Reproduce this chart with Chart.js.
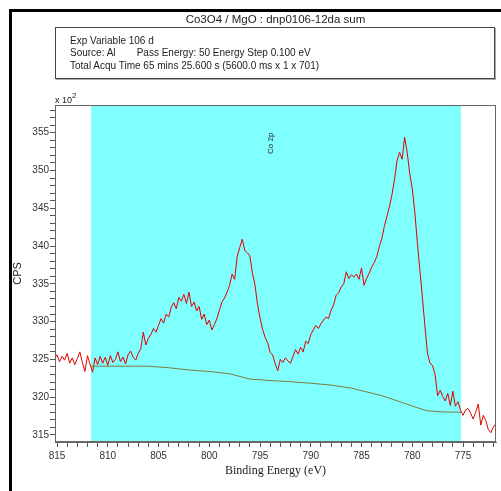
<!DOCTYPE html>
<html><head><meta charset="utf-8">
<script src="https://cdn.jsdelivr.net/npm/chart.js@4"></script>
<style>
html,body{margin:0;padding:0;background:#fff;}
#wrap{position:relative;width:501px;height:491px;overflow:hidden;background:#fff;}
#c{position:absolute;left:0;top:0;}
#frameTop{position:absolute;left:9px;top:9px;width:492px;height:3px;background:#000;}
#frameLeft{position:absolute;left:9px;top:9px;width:3px;height:482px;background:#000;}
#title{position:absolute;left:55px;width:441px;top:12px;text-align:center;font:11.5px "Liberation Sans",Arial,sans-serif;color:#222;line-height:14px;white-space:nowrap;}
#info{position:absolute;left:55px;top:27px;width:440px;height:52px;box-sizing:border-box;border:1px solid #444;box-shadow:1px 1px 0 #aaa;font:10px "Liberation Sans",Arial,sans-serif;color:#222;padding:6.5px 0 0 14px;line-height:12.5px;white-space:nowrap;}
#info span.k{display:inline-block;width:66.7px;}
#mult{position:absolute;left:55px;top:92px;font:9px "Liberation Sans",Arial,sans-serif;color:#222;line-height:10px;white-space:nowrap;}
#mult sup{font-size:8px;position:relative;top:-1px;}
</style>
</head><body>
<div id="wrap">
<canvas id="c" width="501" height="491"></canvas>
<div id="frameTop"></div><div id="frameLeft"></div>
<div id="title">Co3O4 / MgO : dnp0106-12da sum</div>
<div id="info">Exp Variable 106 d<br><span class="k">Source: Al</span>Pass Energy: 50 Energy Step 0.100 eV<br>Total Acqu Time 65 mins 25.600 s (5600.0 ms x 1 x 701)</div>
<div id="mult">x 10<sup>2</sup></div>
</div>
<script>
// Binding energies (eV) of the measured spectrum
const energy = [815.25,
 815,814.75,814.5,814.25, 814,813.75,813.5,813.25, 813,812.75,812.5,812.25, 812,811.75,811.5,811.25,
 811,810.75,810.5,810.25, 810,809.75,809.5,809.25, 809,808.75,808.5,808.25, 808,807.75,807.5,807.25,
 807,806.75,806.5,806.25, 806,805.75,805.5,805.25, 805,804.75,804.5,804.25, 804,803.75,803.5,803.25,
 803,802.75,802.5,802.25, 802,801.75,801.5,801.25, 801,800.75,800.5,800.25, 800,799.75,799.5,799.25,
 799,798.75,798.5,798.25, 798,797.75,797.5,797.25, 797,796.75,796.5,796.25, 796,795.75,795.5,795.25,
 795,794.75,794.5,794.25, 794,793.75,793.5,793.25, 793,792.75,792.5,792.25, 792,791.75,791.5,791.25,
 791,790.75,790.5,790.25, 790,789.75,789.5,789.25, 789,788.75,788.5,788.25, 788,787.75,787.5,787.25,
 787,786.75,786.5,786.25, 786,785.75,785.5,785.25, 785,784.75,784.5,784.25, 784,783.75,783.5,783.25,
 783,782.75,782.5,782.25, 782,781.75,781.5,781.25, 781,780.75,780.5,780.25, 780,779.75,779.5,779.25,
 779,778.75,778.5,778.25, 778,777.75,777.5,777.25, 777,776.75,776.5,776.25, 776,775.75,775.5,775.25,
 775,774.75,774.5,774.25, 774,773.75,773.5,773.25, 773,772.75,772.5,772.25, 772,771.75];
// Counts (CPS x 10^2)
const cps = [325.1,
 325.6,324.7,325.4,324.9, 325.8,324.5,325.2,324.3, 325.1,326.0,324.6,323.4, 325.5,324.4,323.3,325.2,
 324.3,325.4,324.5,325.3, 324.2,325.5,324.6,325.0, 326.0,324.7,325.3,324.4, 325.6,326.1,325.3,324.9,
 325.8,326.4,328.6,326.9, 327.8,328.3,329.1,328.6, 329.5,330.4,329.8,331.0, 330.6,331.9,332.5,331.7,
 333.2,332.7,333.6,332.4, 333.9,332.0,332.6,331.4, 332.0,330.3,331.0,329.6, 330.2,328.9,329.6,330.4,
 331.5,332.6,333.1,333.9, 334.8,336.3,335.6,338.6, 339.8,340.9,339.4,339.1, 338.7,336.4,334.9,332.3,
 330.5,329.0,327.9,327.2, 325.9,325.6,324.4,323.5, 325.0,324.6,325.2,324.8, 324.5,325.4,326.3,325.7,
 326.6,326.0,327.4,327.1, 328.3,328.9,329.5,329.1, 329.7,330.2,330.6,330.4, 331.5,332.2,333.5,333.8,
 334.6,335.0,336.6,335.7, 336.2,335.9,336.3,335.6, 337.1,334.8,335.7,336.4, 337.2,337.8,338.6,339.9,
 341.0,342.6,343.9,345.2, 346.8,348.8,351.3,352.4, 351.5,354.4,352.4,349.6, 347.6,344.5,340.5,336.8,
 333.2,329.4,325.8,324.5, 324.2,323.0,320.2,320.9, 320.1,319.5,320.5,318.9, 320.8,318.8,319.4,318.3,
 317.6,318.3,318.5,317.9, 317.1,318.0,319.1,316.3, 317.6,316.9,315.7,315.3, 316.1,316.5];
// Background (baseline) curve
const bgEnergy = [811.65,809,806,804,802,800,798,796,794,792,790,788,786,784.5,783,781,779.5,778.5,777,775.2];
const bgCps = [324.1,324.1,324.1,323.9,323.6,323.4,323.1,322.4,322.2,322.05,321.85,321.6,321.2,320.7,320.2,319.3,318.6,318.2,318.05,318.0];
// Fitting region (cyan)
const regionFrom = 811.65, regionTo = 775.2;
// Peak label
const peakLabel = 'Co 2p', peakLabelE = 793.9, peakLabelY = 353.6;
// Axis ranges
const xMin = 771.75, xMax = 815.2, yMin = 314.07, yMax = 358.67;

const spectrum = energy.map((e,i)=>({x:e,y:cps[i]}));
const background = bgEnergy.map((e,i)=>({x:e,y:bgCps[i]}));

const regionPlugin = {
  id:'region',
  beforeDatasetsDraw(chart){
    const {ctx,chartArea:a,scales:{x}} = chart;
    const x1 = x.getPixelForValue(regionFrom), x2 = x.getPixelForValue(regionTo);
    ctx.save();
    ctx.fillStyle = '#80ffff';
    ctx.fillRect(Math.min(x1,x2), a.top, Math.abs(x2-x1), a.bottom-a.top);
    ctx.restore();
  },
  afterDatasetsDraw(chart){
    const {ctx,chartArea:a,scales:{x,y}} = chart;
    ctx.save();
    ctx.strokeStyle = '#666';
    ctx.lineWidth = 1;
    ctx.strokeRect(Math.round(a.left)+0.5, Math.round(a.top)+0.5, Math.round(a.right-a.left)-1, Math.round(a.bottom-a.top)-1);
    ctx.translate(x.getPixelForValue(peakLabelE), y.getPixelForValue(peakLabelY));
    ctx.rotate(-Math.PI/2);
    ctx.font = '8px "Liberation Sans", Arial, sans-serif';
    ctx.fillStyle = '#222';
    ctx.textAlign = 'center';
    ctx.textBaseline = 'middle';
    ctx.fillText(peakLabel, 0, 0);
    ctx.restore();
  }
};

new Chart(document.getElementById('c'), {
  type:'line',
  data:{datasets:[
    {data:background, borderColor:'#7f7a3a', borderWidth:1, pointRadius:0, tension:0, fill:false},
    {data:spectrum, borderColor:'#e00000', borderWidth:1, pointRadius:0, tension:0, fill:false}
  ]},
  options:{
    responsive:false, animation:false, devicePixelRatio:1,
    layout:{padding:{left:0,top:105,right:5,bottom:0}},
    plugins:{legend:{display:false}, tooltip:{enabled:false}, title:{display:false}},
    scales:{
      x:{type:'linear', reverse:true, min:xMin, max:xMax,
        ticks:{stepSize:1, autoSkip:false, maxRotation:0, includeBounds:false,
          callback:v=> (Math.round(v)%5===0 ? String(Math.round(v)) : ''),
          font:{family:'Liberation Sans', size:10}, color:'#333', padding:3},
        grid:{drawOnChartArea:false, drawTicks:true, tickLength:5, color:'#555'},
        border:{display:true, color:'#666'},
        title:{display:true, text:'Binding Energy (eV)', font:{family:'Liberation Serif', size:12}, color:'#222', padding:{top:0,bottom:13}},
        afterFit:s=>{s.height=49;}
      },
      y:{type:'linear', min:yMin, max:yMax,
        ticks:{stepSize:1, autoSkip:false, includeBounds:false, maxTicksLimit:100,
          callback:v=> (Math.round(v)%5===0 ? String(Math.round(v)) : ''),
          font:{family:'Liberation Sans', size:10}, color:'#333', padding:1},
        grid:{drawOnChartArea:false, drawTicks:true, tickLength:5, color:'#555'},
        border:{display:true, color:'#666'},
        title:{display:true, text:'CPS', font:{family:'Liberation Sans', size:11}, color:'#222', padding:{top:11,bottom:0}},
        afterFit:s=>{s.width=55;}
      }
    }
  },
  plugins:[regionPlugin]
});
</script>
</body></html>
